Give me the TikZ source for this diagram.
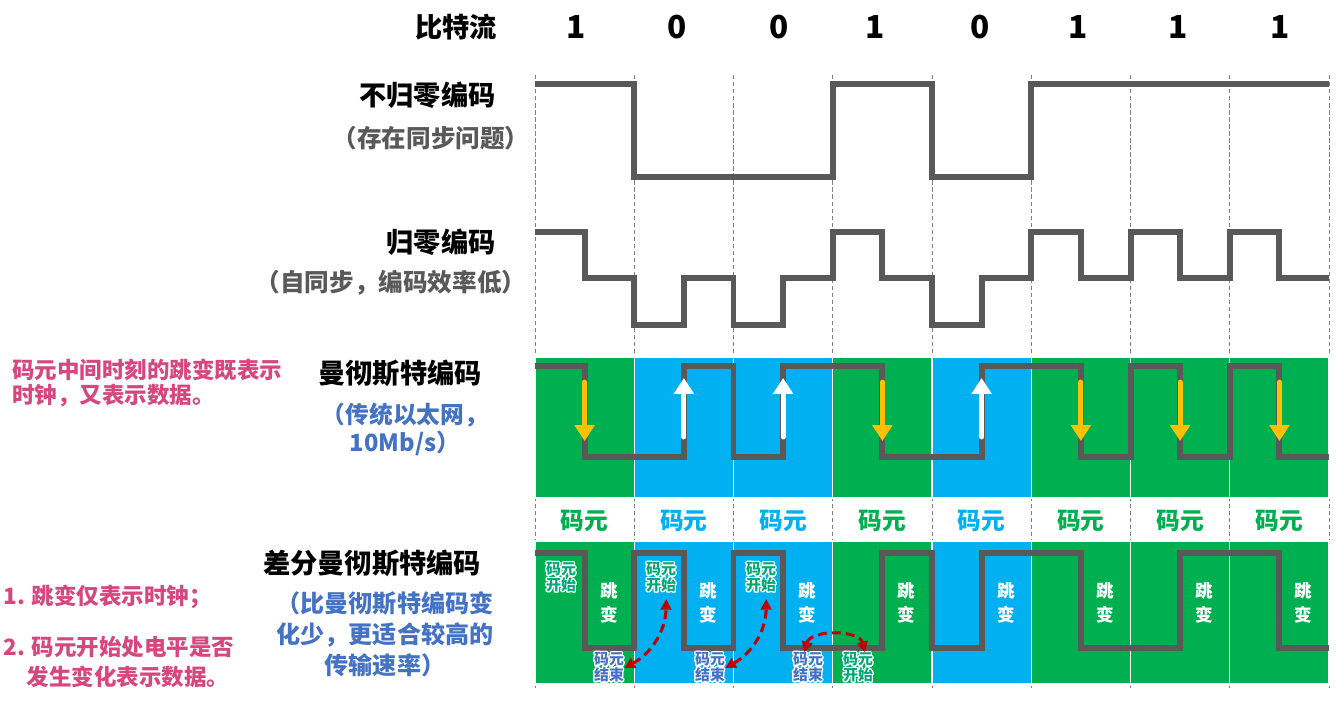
\documentclass[tikz,border=0pt]{standalone}
\usepackage{fontspec}
\setmainfont{Noto Sans CJK SC}
\usepackage{contour}
\contourlength{0.8pt}
\contournumber{12}
\usetikzlibrary{arrows.meta}

\definecolor{bitgreen}{HTML}{00B050}
\definecolor{bitblue}{HTML}{00B0F0}
\colorlet{bitc1}{bitgreen}
\colorlet{bitc0}{bitblue}
\definecolor{wavegray}{HTML}{595959}
\definecolor{arrowyellow}{HTML}{FFC000}
\definecolor{curvered}{HTML}{C00000}
\definecolor{noteblue}{HTML}{4472C4}
\definecolor{notepink}{HTML}{D6477F}
\definecolor{tagteal}{HTML}{00A878}

% two outlined lines for the small tags
\newcommand{\tagpair}[2]{\contour{white}{#1}\\\contour{white}{#2}}

\begin{document}
\begin{tikzpicture}[
    x=0.02cm, y=-0.02cm,
    codename/.style={font=\bfseries\fontsize{15.5}{18}\selectfont, text=black, inner sep=0pt},
    subnote/.style={font=\bfseries\fontsize{14}{16}\selectfont, text=wavegray, inner sep=0pt},
    bluenote/.style={font=\bfseries\fontsize{13.5}{16}\selectfont, text=noteblue, align=center, inner sep=0pt},
    pinknote/.style={font=\bfseries\fontsize{12.8}{14.2}\selectfont, text=notepink, align=left, inner sep=0pt},
    bitlabel/.style={font=\bfseries\fontsize{18}{20}\selectfont, inner sep=0pt},
    slotlabel/.style={font=\bfseries\fontsize{13.5}{16}\selectfont, inner sep=0pt},
    jumplabel/.style={font=\bfseries\fontsize{10}{13}\selectfont, text=white, align=center, inner sep=0pt},
    starttag/.style={font=\bfseries\fontsize{8.5}{9}\selectfont, text=tagteal, align=center, inner sep=0pt},
    endtag/.style={font=\bfseries\fontsize{8.5}{9}\selectfont, text=noteblue, align=center, inner sep=0pt},
    slotline/.style={gray, line width=0.5pt, dash pattern=on 2.5pt off 1.5pt},
    bitbox1/.style={fill=bitgreen, draw=white, line width=0.7pt},
    bitbox0/.style={fill=bitblue, draw=white, line width=0.7pt},
    wave/.style={wavegray, line width=3.4pt, line join=miter},
    downarrow/.style={arrowyellow, line width=2.8pt, line cap=round, -{Triangle[width=11pt,length=9pt]}},
    uparrow/.style={white, line width=2.8pt, line cap=round, -{Triangle[width=11pt,length=9pt]}},
    redarrow/.style={curvered, line width=1.7pt, dash pattern=on 5pt off 3pt,
        {Triangle[width=6pt,length=6pt]}-{Triangle[width=6pt,length=6pt]}}
]
\useasboundingbox (0,0) rectangle (1342,718);

% === SLOTS ===
\foreach \i in {0,...,8}
    \draw[slotline] ({535+99.25*\i},75) -- ({535+99.25*\i},688);

\foreach \i/\b in {0/1,1/0,2/0,3/1,4/0,5/1,6/1,7/1} {
    \pgfmathsetmacro\xl{535+99.25*\i}
    \path[bitbox\b] (\xl,357) rectangle ++(99.25,141);
    \path[bitbox\b] (\xl,541) rectangle ++(99.25,143);
    \node[slotlabel, text=bitc\b] (slot\i) at (\xl+49.6,521) {码元};
    \node[jumplabel] (jump\i) at (\xl+74,603) {跳\\[1pt]变};
}

% bit stream row
\node[codename] (stream) at (456,27) {比特流};
\foreach \x/\b [count=\k] in {576/1,677/0,779/0,875/1,980/0,1078/1,1178/1,1280/1}
    \node[bitlabel] (bit\k) at (\x,27) {\b};

% === LEFT LABELS ===
\node[codename, anchor=east] (nrz) at (496,95) {不归零编码};
\node[subnote] (nrznote) at (431,138) {（存在同步问题）};

\node[codename, anchor=east] (rz) at (496,242) {归零编码};
\node[subnote] (rznote) at (391,283) {（自同步，编码效率低）};

\node[codename] (man) at (400,373) {曼彻斯特编码};
\node[bluenote] (mannote) at (405,429) {（传统以太网，\\10Mb/s）};
\node[pinknote, anchor=west] (mantip) at (12,383) {码元中间时刻的跳变既表示\\时钟，又表示数据。};

\node[codename] (diff) at (372,563) {差分曼彻斯特编码};
\node[bluenote, font=\bfseries\fontsize{13.7}{17.6}\selectfont] (diffnote) at (385,634)
    {（比曼彻斯特编码变\\化少，更适合较高的\\传输速率）};
\node[pinknote, anchor=west] (difftip1) at (3,597) {1. 跳变仅表示时钟；};
\node[pinknote, anchor=west, font=\bfseries\fontsize{12.8}{17.6}\selectfont] (difftip2) at (3,662)
    {2. 码元开始处电平是否\\\hspace*{0.47cm}发生变化表示数据。};

% === WAVEFORMS ===
% NRZ
\draw[wave] (535,84) -- (634.25,84) -- (634.25,177) -- (832.75,177) -- (832.75,84)
    -- (932,84) -- (932,177) -- (1031.25,177) -- (1031.25,84) -- (1329,84);

% RZ
\draw[wave] (535,232) -- (584.6,232) -- (584.6,278) -- (634.25,278) -- (634.25,325)
    -- (683.9,325) -- (683.9,278) -- (733.5,278) -- (733.5,325) -- (783.1,325)
    -- (783.1,278) -- (832.75,278) -- (832.75,232) -- (882.4,232) -- (882.4,278)
    -- (932,278) -- (932,325) -- (981.6,325) -- (981.6,278) -- (1031.25,278)
    -- (1031.25,232) -- (1080.9,232) -- (1080.9,278) -- (1130.5,278) -- (1130.5,232)
    -- (1180.1,232) -- (1180.1,278) -- (1229.75,278) -- (1229.75,232) -- (1279.4,232)
    -- (1279.4,278) -- (1329,278);

% Manchester
\draw[wave] (535,366) -| (584.6,457) -| (683.9,366) -| (733.5,457) -| (783.1,366)
    -| (882.4,457) -| (981.6,366) -| (1080.9,457) -| (1130.5,366) -| (1180.1,457)
    -| (1229.75,366) -| (1279.4,457) -- (1329,457);

% Differential Manchester
\draw[wave] (535,553) -| (584.6,648) -| (634.25,553) -| (683.9,648) -| (733.5,553)
    -| (783.1,648) -| (882.4,553) -| (932,648) -| (981.6,553) -| (1080.9,648)
    -| (1180.1,553) -| (1279.4,648) -- (1329,648);

% === MID-BIT ARROWS ===
\foreach \m in {584.6,882.4,1080.9,1180.1,1279.4}
    \draw[downarrow] (\m,382) -- (\m,441);
\foreach \m in {683.9,783.1,981.6}
    \draw[uparrow] (\m,437) -- (\m,378);

% === TAGS ===
\node[starttag] (start0) at (561,578) {\tagpair{码元}{开始}};
\node[starttag] (start1) at (661,578) {\tagpair{码元}{开始}};
\node[starttag] (start2) at (761,578) {\tagpair{码元}{开始}};
\node[starttag] (start3) at (858,668) {\tagpair{码元}{开始}};
\node[endtag] (end0) at (609,668) {\tagpair{码元}{结束}};
\node[endtag] (end1) at (710,668) {\tagpair{码元}{结束}};
\node[endtag] (end2) at (808,668) {\tagpair{码元}{结束}};

\draw[redarrow] (end0.east) to[bend right=30] ([xshift=3pt,yshift=-3pt]start1.south);
\draw[redarrow] (end1.east) to[bend right=30] ([xshift=3pt,yshift=-3pt]start2.south);
\draw[redarrow] ([xshift=-2pt]end2.north) to[bend left=75] ([xshift=4pt]start3.north);

\end{tikzpicture}
\end{document}
